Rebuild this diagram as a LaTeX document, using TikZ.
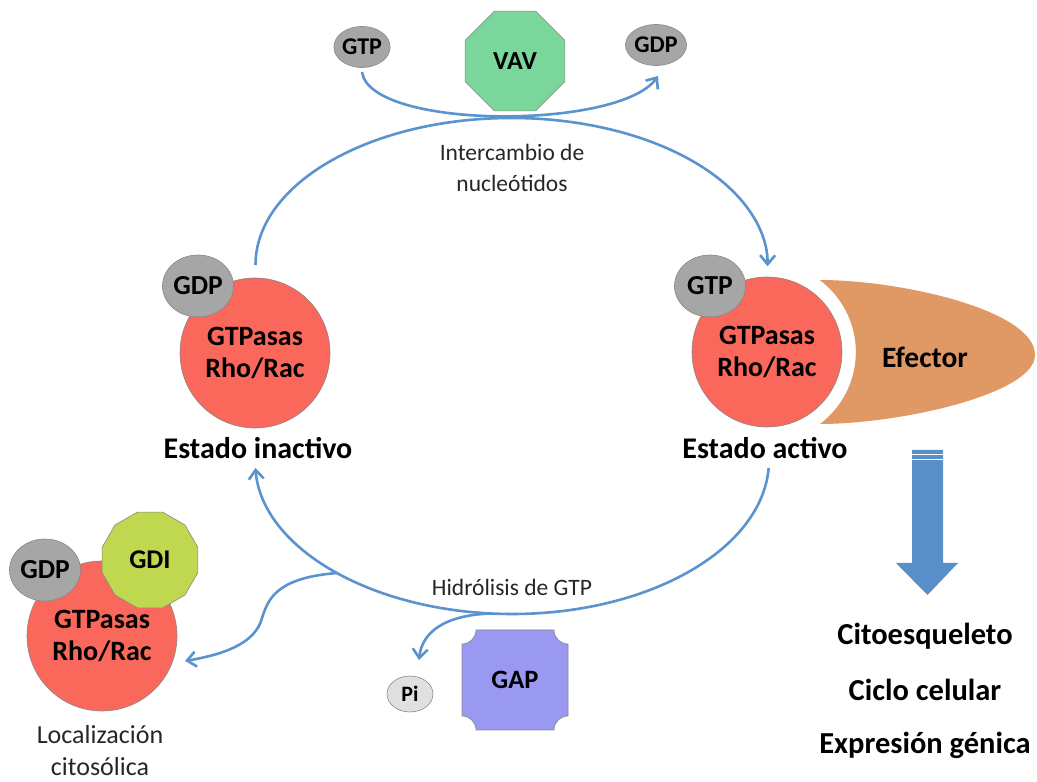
\documentclass[tikz,border=0pt]{standalone}
\usepackage{fontspec}
\setmainfont{Carlito}
\usetikzlibrary{shapes.geometric,arrows.meta}
\definecolor{gtpred}{RGB}{250,104,92}
\definecolor{smallgray}{RGB}{166,166,166}
\definecolor{edgegray}{RGB}{135,135,135}
\definecolor{pigray}{RGB}{224,224,224}
\definecolor{vavgreen}{RGB}{122,214,154}
\definecolor{efeorange}{RGB}{224,153,100}
\definecolor{gdigreen}{RGB}{192,216,80}
\definecolor{gapblue}{RGB}{153,153,242}
\definecolor{lineblue}{RGB}{91,147,206}
\definecolor{bigblue}{RGB}{90,142,200}
\definecolor{txtgray}{RGB}{38,38,38}
\begin{document}
\begin{tikzpicture}[x=1pt,y=1pt,
  gtpase/.style={circle, fill=gtpred, draw=edgegray, line width=0.6pt, minimum size=150pt, inner sep=0pt, align=center, font=\fontsize{28}{32}\selectfont\bfseries},
  nuc/.style={ellipse, fill=smallgray, draw=edgegray, line width=0.6pt, inner sep=0pt, font=\fontsize{27.5}{32}\selectfont\bfseries},
  nucsmall/.style={nuc, minimum width=50pt, minimum height=41pt, font=\fontsize{24}{28}\selectfont\bfseries},
  nucbig/.style={nuc, minimum width=71pt, minimum height=62pt},
  statetxt/.style={font=\fontsize{30}{36}\selectfont\bfseries},
  lbl/.style={text=txtgray, align=center, font=\fontsize{23.5}{31}\selectfont},
  outcome/.style={font=\fontsize{30.5}{36}\selectfont\bfseries},
  cyc/.style={draw=lineblue, line width=2.6pt},
  barb/.style={-{Straight Barb[length=9pt,width=15pt]}},
  thinedge/.style={draw=edgegray, line width=0.6pt}
]
\useasboundingbox (0,0) rectangle (1037,782);

% --- main cycle arcs ---
\coordinate (ctop) at (511.5,517);
\coordinate (cbot) at (512,322);
\draw[cyc,barb] (ctop) ++(180:256pt and 147pt) coordinate (t1)
   arc[start angle=180, end angle=-0.5, x radius=256pt, y radius=147pt] coordinate (t2);
\draw[cyc,barb] (cbot) ++(-3:257pt and 154pt) coordinate (b1)
   arc[start angle=-3, end angle=-177, x radius=257pt, y radius=154pt] coordinate (b2);

% --- inactive state ---
\node[gtpase] (Lc) at (255,429) {GTPasas\\Rho/Rac};
\node[nucbig] (Lgdp) at (198,496) {GDP};
\node[statetxt] (Ltxt) at (258,334) {Estado inactivo};

% --- active state + effector ---
\fill[efeorange] (820,502) .. controls (900,502) and (1035,472) .. (1035,427)
   .. controls (1035,388) and (900,358) .. (820,358)
   arc[start angle=-53, end angle=53, radius=90pt] -- cycle;
\node[font=\fontsize{29.5}{34}\selectfont\bfseries] (efe) at (925,425) {Efector};
\node[gtpase] (Rc) at (767,430) {GTPasas\\Rho/Rac};
\node[nucbig] (Rgtp) at (710,496) {GTP};
\node[statetxt] (Rtxt) at (765,334) {Estado activo};

% --- nucleotide exchange ---
\node[regular polygon, regular polygon sides=8, minimum size=108pt, inner sep=0pt,
      fill=vavgreen, thinedge, font=\fontsize{26}{30}\selectfont\bfseries] (vav) at (515,721) {VAV};
\node[nucsmall] (gtpin) at (362,735) {GTP};
\node[nucsmall] (gdpout) at (656,737) {GDP};
\coordinate (v1) at (362,710);
\coordinate (v2) at (658,706);
\draw[cyc,barb] (v1) .. controls (370,652) and (620,652) .. (v2);
\node[lbl] (inter) at (512,614) {Intercambio de\\nucleótidos};

% --- hydrolysis ---
\node[lbl] (hidro) at (512,195) {Hidrólisis de GTP};
\coordinate (h1) at (491,168.5);
\node[ellipse, fill=pigray, thinedge, minimum width=46pt, minimum height=36pt, inner sep=0pt,
      font=\fontsize{22}{26}\selectfont\bfseries] (pi) at (410,88) {Pi};
\coordinate (h2) at (419,122);
\draw[cyc,barb] (h1) .. controls (445,167) and (422,150) .. (h2);
\fill[gapblue, thinedge] (476,152) -- (554,152)
   arc[start angle=180, end angle=270, radius=14pt] -- (568,66)
   arc[start angle=90, end angle=180, radius=14pt] -- (476,52)
   arc[start angle=0, end angle=90, radius=14pt] -- (462,138)
   arc[start angle=270, end angle=360, radius=14pt] -- cycle;
\node[font=\fontsize{26.5}{30}\selectfont\bfseries] (gap) at (515,102) {GAP};

% --- cytosolic localisation ---
\coordinate (c1) at (337,209);
\node[gtpase] (Cc) at (102,146) {GTPasas\\Rho/Rac};
\node[nucbig] (Cgdp) at (45,212) {GDP};
\node[regular polygon, regular polygon sides=12, minimum size=99pt, inner sep=0pt,
      fill=gdigreen, thinedge, font=\fontsize{27}{30}\selectfont\bfseries] (gdi) at (150,222) {GDI};
\coordinate (c2) at (185,121);
\draw[cyc,barb] (c1) .. controls (275,204) and (268,182) .. (262,164)
   .. controls (255,137) and (220,127) .. (c2);
\node[text=txtgray, align=center, font=\fontsize{26}{32}\selectfont] (loc) at (100,31) {Localización\\citosólica};

% --- downstream ---
\fill[bigblue] (912,332) -- (943,332) -- (943,219) -- (958,219) -- (927.5,187)
   -- (896,219) -- (912,219) -- cycle;
\draw[white, line width=0.8pt] (912,328) -- (943,328);
\draw[white, line width=0.8pt] (912,323) -- (943,323);
\node[outcome] (o1) at (925,146) {Citoesqueleto};
\node[outcome] (o2) at (925,92) {Ciclo celular};
\node[outcome] (o3) at (925,37) {Expresión génica};
\end{tikzpicture}
\end{document}
